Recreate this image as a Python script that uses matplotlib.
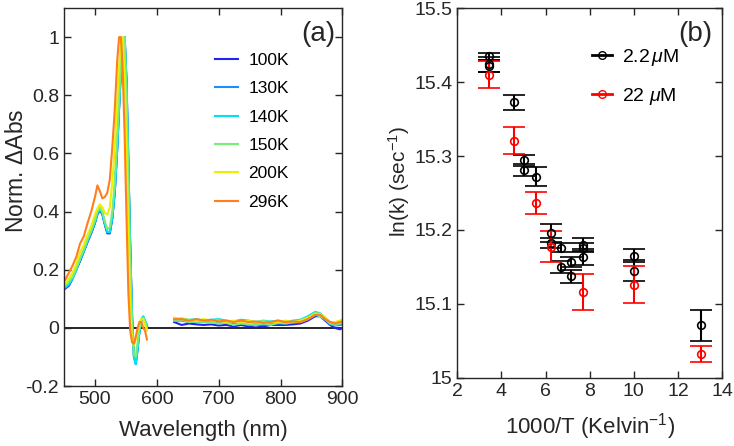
import matplotlib
matplotlib.use('Agg')
import matplotlib.pyplot as plt
from matplotlib.lines import Line2D
import numpy as np

plt.rcParams['font.family'] = ['Liberation Sans', 'DejaVu Sans']
plt.rcParams['mathtext.fontset'] = 'custom'
plt.rcParams['mathtext.rm'] = 'Liberation Sans'
plt.rcParams['mathtext.it'] = 'Liberation Sans:italic'

# ---------- panel (a): normalised transient spectra ----------
temps = ['100K', '130K', '140K', '150K', '200K', '296K']
colors = ['#2424f0', '#1e8cff', '#00e4f0', '#78ee78', '#eeee00', '#ff7f1e']

# visible band (nm)
wl_vis = [452, 458, 464, 470, 476, 482, 488, 494, 500, 504, 508, 512, 516, 520,
          524, 528, 532, 536, 539, 542, 545, 548, 551, 554, 557, 560, 563, 566,
          569, 572, 575, 578, 581, 584]

vis_100 = [0.135, 0.145, 0.170, 0.200, 0.230, 0.262, 0.295, 0.325, 0.360, 0.390,
           0.405, 0.390, 0.355, 0.325, 0.325, 0.375, 0.465, 0.615, 0.755, 0.885,
           0.975, 1.000, 0.850, 0.570, 0.280, 0.040, -0.095, -0.120, -0.070, -0.010,
           0.025, 0.035, 0.020, 0.005]
vis_130 = [0.138, 0.148, 0.172, 0.202, 0.233, 0.265, 0.298, 0.328, 0.363, 0.393,
           0.408, 0.393, 0.358, 0.328, 0.328, 0.378, 0.468, 0.618, 0.758, 0.888,
           0.978, 1.000, 0.845, 0.565, 0.275, 0.035, -0.100, -0.125, -0.072, -0.010,
           0.028, 0.038, 0.022, 0.008]
vis_140 = [0.140, 0.150, 0.170, 0.200, 0.235, 0.265, 0.300, 0.330, 0.365, 0.395,
           0.410, 0.395, 0.360, 0.330, 0.330, 0.380, 0.470, 0.620, 0.760, 0.890,
           0.980, 1.000, 0.840, 0.560, 0.270, 0.030, -0.100, -0.125, -0.070, -0.010,
           0.030, 0.040, 0.025, 0.010]
vis_150 = [0.145, 0.160, 0.175, 0.205, 0.240, 0.270, 0.305, 0.335, 0.370, 0.400,
           0.415, 0.400, 0.365, 0.340, 0.345, 0.400, 0.500, 0.660, 0.790, 0.920,
           0.990, 1.000, 0.800, 0.500, 0.220, 0.000, -0.090, -0.100, -0.050, 0.000,
           0.030, 0.035, 0.020, 0.000]
vis_200 = [0.150, 0.170, 0.190, 0.220, 0.260, 0.285, 0.320, 0.350, 0.390, 0.410,
           0.425, 0.415, 0.395, 0.390, 0.415, 0.500, 0.620, 0.780, 0.900, 0.990,
           1.000, 0.860, 0.600, 0.320, 0.070, -0.040, -0.060, -0.040, -0.010, 0.020,
           0.030, 0.030, 0.010, -0.010]
vis_296 = [0.165, 0.190, 0.215, 0.245, 0.290, 0.315, 0.360, 0.400, 0.450, 0.490,
           0.470, 0.445, 0.450, 0.465, 0.510, 0.620, 0.750, 0.920, 1.000, 1.000,
           0.880, 0.660, 0.380, 0.120, -0.010, -0.050, -0.055, -0.030, 0.000, 0.020,
           0.020, 0.000, -0.010, -0.040]

# near-IR band (nm)
wl_nir = [628, 640, 652, 664, 676, 688, 700, 712, 724, 736, 748, 760, 772, 784,
          796, 808, 820, 832, 844, 856, 864, 872, 880, 888, 896, 900]

nir_100 = [0.020, 0.010, 0.015, 0.012, 0.010, 0.012, 0.008, 0.010, 0.005, 0.010,
           0.005, 0.008, 0.005, 0.010, 0.010, 0.010, 0.012, 0.015, 0.025, 0.040,
           0.040, 0.025, 0.010, 0.000, -0.005, 0.000]
nir_130 = [0.025, 0.025, 0.020, 0.022, 0.020, 0.020, 0.015, 0.018, 0.012, 0.015,
           0.010, 0.012, 0.010, 0.012, 0.015, 0.015, 0.018, 0.020, 0.030, 0.045,
           0.042, 0.028, 0.012, 0.008, 0.010, 0.012]
nir_140 = [0.030, 0.032, 0.028, 0.030, 0.025, 0.028, 0.030, 0.025, 0.022, 0.028,
           0.025, 0.020, 0.025, 0.022, 0.025, 0.020, 0.025, 0.028, 0.040, 0.055,
           0.050, 0.035, 0.020, 0.015, 0.020, 0.020]
nir_150 = [0.025, 0.028, 0.020, 0.022, 0.020, 0.018, 0.015, 0.018, 0.010, 0.015,
           0.012, 0.010, 0.015, 0.010, 0.018, 0.015, 0.020, 0.020, 0.030, 0.045,
           0.040, 0.030, 0.015, 0.010, 0.015, 0.018]
nir_200 = [0.035, 0.030, 0.028, 0.025, 0.030, 0.025, 0.025, 0.020, 0.025, 0.020,
           0.025, 0.020, 0.022, 0.020, 0.020, 0.025, 0.020, 0.025, 0.035, 0.050,
           0.048, 0.035, 0.020, 0.020, 0.025, 0.030]
nir_296 = [0.030, 0.030, 0.025, 0.030, 0.025, 0.028, 0.022, 0.025, 0.020, 0.025,
           0.020, 0.022, 0.018, 0.020, 0.025, 0.020, 0.022, 0.020, 0.030, 0.045,
           0.045, 0.030, 0.020, 0.015, 0.020, 0.022]

vis_all = [vis_100, vis_130, vis_140, vis_150, vis_200, vis_296]
nir_all = [nir_100, nir_130, nir_140, nir_150, nir_200, nir_296]

# ---------- panel (b): Arrhenius data ----------
x_low = [3.43, 3.43, 3.43, 4.57, 5.03, 5.03, 5.59, 6.26, 6.26, 6.68, 6.68,
         7.16, 7.16, 7.71, 7.71, 7.71, 10.02, 10.02, 13.03]
y_low = [15.435, 15.422, 15.424, 15.373, 15.294, 15.281, 15.272, 15.196, 15.182,
         15.176, 15.150, 15.157, 15.137, 15.180, 15.176, 15.163, 15.165, 15.145,
         15.071]
e_low = [0.005, 0.008, 0.010, 0.010, 0.007, 0.008, 0.013, 0.012, 0.007, 0.006,
         0.008, 0.007, 0.009, 0.009, 0.006, 0.011, 0.009, 0.014, 0.021]

x_high = [3.43, 4.57, 5.59, 6.26, 7.71, 10.02, 13.03]
y_high = [15.410, 15.321, 15.237, 15.177, 15.116, 15.126, 15.032]
e_high = [0.018, 0.018, 0.015, 0.021, 0.024, 0.025, 0.011]

spine_col = '#262626'

fig = plt.figure(figsize=(7.34, 4.46), dpi=100)
ax1 = fig.add_axes([0.0872, 0.1345, 0.3794, 0.8475])
ax2 = fig.add_axes([0.623, 0.1531, 0.3607, 0.8283])

for ax in (ax1, ax2):
    for s in ax.spines.values():
        s.set_color(spine_col)
        s.set_linewidth(1.0)
    ax.tick_params(direction='in', top=True, right=True, length=5,
                   width=1.0, color=spine_col, labelsize=14, labelcolor='#262626')

# panel a
for i in range(len(temps)):
    ax1.plot(wl_vis, vis_all[i], color=colors[i], lw=1.5, label=temps[i])
    ax1.plot(wl_nir, nir_all[i], color=colors[i], lw=1.5)
ax1.axhline(0, color='black', lw=1.2, zorder=1)
ax1.set_xlim(450, 900)
ax1.set_ylim(-0.2, 1.1)
ax1.set_xticks([500, 600, 700, 800, 900])
ax1.set_yticks([-0.2, 0, 0.2, 0.4, 0.6, 0.8, 1])
ax1.set_yticklabels(['-0.2', '0', '0.2', '0.4', '0.6', '0.8', '1'])
ax1.set_xlabel('Wavelength (nm)', fontsize=16, color='#262626', labelpad=9)
ax1.set_ylabel('Norm. $\\Delta$Abs', fontsize=16.5, color='#262626')
ax1.yaxis.set_label_coords(-0.128, 0.57)
ax1.text(0.975, 0.965, '(a)', transform=ax1.transAxes, ha='right', va='top',
         fontsize=20, color='#262626')
ax1.legend(loc='upper left', bbox_to_anchor=(0.518, 0.9), frameon=False,
           fontsize=12.5, handlelength=1.32, handletextpad=0.6,
           labelspacing=0.76, borderaxespad=0)

# panel b
ax2.errorbar(x_low, y_low, yerr=e_low, fmt='o', color='black', mfc='none',
             ms=5.5, mew=1.2, elinewidth=1.5, capsize=8, capthick=1.5)
ax2.errorbar(x_high, y_high, yerr=e_high, fmt='o', color='red', mfc='none',
             ms=5.5, mew=1.2, elinewidth=1.5, capsize=8, capthick=1.5)
ax2.set_xlim(2, 14)
ax2.set_ylim(15.0, 15.5)
ax2.set_xticks([2, 4, 6, 8, 10, 12, 14])
ax2.set_yticks([15.0, 15.1, 15.2, 15.3, 15.4, 15.5])
ax2.set_yticklabels(['15', '15.1', '15.2', '15.3', '15.4', '15.5'])
ax2.set_xlabel('1000/T (Kelvin$^{-1}$)', fontsize=16, color='#262626', labelpad=8)
ax2.set_ylabel('ln(k) (sec$^{-1}$)', fontsize=15, color='#262626')
ax2.yaxis.set_label_coords(-0.17, 0.53)
ax2.text(0.965, 0.965, '(b)', transform=ax2.transAxes, ha='right', va='top',
         fontsize=20, color='#262626')
handles = [Line2D([], [], color='black', marker='o', mfc='none', ms=5.5, lw=2),
           Line2D([], [], color='red', marker='o', mfc='none', ms=5.5, lw=2)]
ax2.legend(handles, ['2.2$\\,\\mu$M', '22 $\\mu$M'], loc='upper left',
           bbox_to_anchor=(0.481, 0.916), frameon=False, fontsize=14,
           handlelength=1.03, handletextpad=0.5, labelspacing=0.9, borderaxespad=0)

fig.savefig('out.png', dpi=100)
